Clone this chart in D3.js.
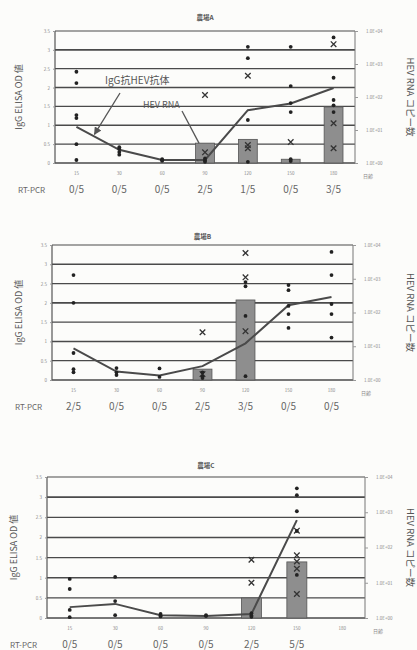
<!DOCTYPE html>
<html>
<head>
<meta charset="utf-8">
<script src="https://cdn.jsdelivr.net/npm/d3@7"></script>
<style>
  body { margin: 0; background: #fcfcfa; }
  svg { display: block; }
  text { font-family: "Noto Sans CJK JP", "Noto Sans", sans-serif; }
</style>
</head>
<body>
<div id="chart"></div>
<script>
// 日齢カテゴリ
var days = ["15", "30", "60", "90", "120", "150", "180"];
var leftTicks = [0, 0.5, 1, 1.5, 2, 2.5, 3, 3.5];
var rightTicks = [1, 10, 100, 1000, 10000];
var rightTickLabels = ["1.0E+00", "1.0E+01", "1.0E+02", "1.0E+03", "1.0E+04"];

// 農場A
var rtpcrA = ["0/5", "0/5", "0/5", "2/5", "1/5", "0/5", "3/5"];
var iggA = [[2.42, 2.12, 1.27, 1.19, 0.5, 0.08], [0.42, 0.37, 0.29, 0.22], [0.1, 0.08, 0.06],
            [0.12, 0.07, 0.03], [3.08, 2.78, 1.14, 0.03], [3.08, 2.04, 1.59, 1.35, 0.1, 0.05],
            [3.33, 2.26, 1.67, 1.53, 1.35]];
var meanA = [0.96, 0.35, 0.08, 0.08, 1.4, 1.58, 1.99];
var rnaBarA = [null, null, null, 4, 5.2, 1.3, 50];
var rnaPtsA = [[], [], [], [115, 2.1], [440, 3.5, 2.8], [4.3], [4000, 16, 2.8]];

// 農場B
var rtpcrB = ["2/5", "0/5", "0/5", "2/5", "3/5", "0/5", "0/5"];
var iggB = [[2.72, 2.0, 0.7, 0.28, 0.2], [0.31, 0.2, 0.13], [0.3, 0.08],
            [0.2, 0.1, 0.05], [2.54, 2.43, 1.66, 0.1], [2.46, 2.33, 1.92, 1.71, 1.35],
            [3.32, 2.72, 1.97, 1.71, 1.1]];
var meanB = [0.82, 0.22, 0.12, 0.36, 0.95, 1.94, 2.15];
var rnaBarB = [null, null, null, 2.1, 235, null, null];
var rnaPtsB = [[], [], [], [26, 1.5], [5800, 1100, 28], [], []];

// 農場C
var rtpcrC = ["0/5", "0/5", "0/5", "0/5", "2/5", "5/5", ""];
var iggC = [[0.97, 0.72, 0.2, 0.02], [1.02, 0.42, 0.07], [0.1, 0.06, 0.04],
            [0.07, 0.05], [0.12, 0.06, 0.03], [3.22, 3.05, 2.65, 2.16, 1.07], []];
var meanC = [0.27, 0.35, 0.07, 0.05, 0.1, 2.43, null];
var rnaBarC = [null, null, null, null, 3.7, 39, null];
var rnaPtsC = [[], [], [], [], [45, 10], [300, 60, 40, 25, 4.8], []];

var panels = [
    { title: "農場A", rt: rtpcrA, igg: iggA, mean: meanA, bar: rnaBarA, pts: rnaPtsA,
      top: 31, bottom: 163, left: 55, right: 355, titleY: 20, labelX: 22, notes: true },
    { title: "農場B", rt: rtpcrB, igg: iggB, mean: meanB, bar: rnaBarB, pts: rnaPtsB,
      top: 245, bottom: 380, left: 52, right: 353, titleY: 239, labelX: 22, notes: false },
    { title: "農場C", rt: rtpcrC, igg: iggC, mean: meanC, bar: rnaBarC, pts: rnaPtsC,
      top: 477, bottom: 618, left: 47, right: 365, titleY: 468, labelX: 17, notes: false }
];

var svg = d3.select("#chart").append("svg")
    .attr("width", 417)
    .attr("height", 650);

svg.append("defs").append("marker")
    .attr("id", "arrow")
    .attr("viewBox", "0 0 10 10")
    .attr("refX", 9).attr("refY", 5)
    .attr("markerWidth", 6).attr("markerHeight", 6)
    .attr("orient", "auto")
    .append("path")
    .attr("d", "M0,0 L10,5 L0,10 z")
    .attr("fill", "#555");

var cross = d3.symbol().type(d3.symbolX).size(22);

panels.forEach(function (p) {
    var width = p.right - p.left,
        height = p.bottom - p.top;

    var x = d3.scaleBand().domain(days).range([0, width]);
    var y = d3.scaleLinear().domain([0, 3.5]).range([height, 0]);
    var yr = d3.scaleLog().domain([1, 10000]).range([height, 0]);

    var g = svg.append("g")
        .attr("transform", "translate(" + p.left + "," + p.top + ")");

    // title
    svg.append("text")
        .attr("x", (p.left + p.right) / 2)
        .attr("y", p.titleY)
        .attr("text-anchor", "middle")
        .attr("font-size", "6.5px")
        .attr("font-weight", "bold")
        .attr("fill", "#555")
        .text(p.title);

    // horizontal grid
    g.append("g")
        .selectAll("line")
        .data(leftTicks)
        .enter()
        .append("line")
        .attr("x1", 0).attr("x2", width)
        .attr("y1", function (d) { return y(d); })
        .attr("y2", function (d) { return y(d); })
        .attr("stroke", "#4a4a4a")
        .attr("stroke-width", function (d, i) { return i % 2 == 0 ? 1.6 : 1.2; });

    // frame sides
    g.append("line").attr("x1", 0).attr("x2", 0).attr("y1", 0).attr("y2", height)
        .attr("stroke", "#555").attr("stroke-width", 1.2);
    g.append("line").attr("x1", width).attr("x2", width).attr("y1", 0).attr("y2", height)
        .attr("stroke", "#777").attr("stroke-width", 1);

    // left axis
    var la = g.append("g")
        .call(d3.axisLeft(y).tickValues(leftTicks).tickSize(2).tickFormat(d3.format("")));
    la.select(".domain").remove();
    la.selectAll("text").attr("font-size", "4.5px").attr("fill", "#888");
    la.selectAll("line").attr("stroke", "#999");

    // right axis
    var ra = g.append("g")
        .attr("transform", "translate(" + width + ",0)")
        .call(d3.axisRight(yr).tickValues(rightTicks).tickSize(3)
            .tickFormat(function (d, i) { return rightTickLabels[i]; }));
    ra.select(".domain").remove();
    ra.selectAll("text").attr("font-size", "4.5px").attr("fill", "#888").attr("dx", "5");
    ra.selectAll("line").attr("stroke", "#999");

    // x axis labels
    var xa = g.append("g")
        .attr("transform", "translate(0," + height + ")")
        .call(d3.axisBottom(x).tickSize(0).tickPadding(9));
    xa.select(".domain").remove();
    xa.selectAll("text").attr("font-size", "4.5px").attr("fill", "#888");
    g.append("text")
        .attr("x", width + 8).attr("y", height + 15)
        .attr("font-size", "5px").attr("fill", "#888")
        .text("日齢");

    // RNA bars
    var barData = days.map(function (d, i) { return { day: d, v: p.bar[i] }; })
        .filter(function (d) { return d.v != null; });
    var bw = x.bandwidth() * 0.44;
    g.selectAll(".bar")
        .data(barData)
        .enter()
        .append("rect")
        .attr("class", "bar")
        .attr("x", function (d) { return x(d.day) + (x.bandwidth() - bw) / 2; })
        .attr("y", function (d) { return yr(d.v); })
        .attr("width", bw)
        .attr("height", function (d) { return height - yr(d.v); })
        .attr("fill", "#8e8e8e")
        .attr("stroke", "#555")
        .attr("stroke-width", 0.8);

    // RNA points (x marks)
    var rnaPts = [];
    p.pts.forEach(function (arr, i) { arr.forEach(function (v) { rnaPts.push({ day: days[i], v: v }); }); });
    g.selectAll(".rna")
        .data(rnaPts)
        .enter()
        .append("path")
        .attr("class", "rna")
        .attr("d", cross)
        .attr("transform", function (d) { return "translate(" + (x(d.day) + x.bandwidth() / 2) + "," + yr(d.v) + ")"; })
        .attr("fill", "none")
        .attr("stroke", "#333")
        .attr("stroke-width", 1.3);

    // mean IgG line
    var meanData = days.map(function (d, i) { return { day: d, v: p.mean[i] }; })
        .filter(function (d) { return d.v != null; });
    g.append("path")
        .datum(meanData)
        .attr("fill", "none")
        .attr("stroke", "#4a4a4a")
        .attr("stroke-width", 2)
        .attr("d", d3.line()
            .x(function (d) { return x(d.day) + x.bandwidth() / 2; })
            .y(function (d) { return y(d.v); }));

    // individual IgG points
    var iggPts = [];
    p.igg.forEach(function (arr, i) { arr.forEach(function (v) { iggPts.push({ day: days[i], v: v }); }); });
    g.selectAll(".igg")
        .data(iggPts)
        .enter()
        .append("circle")
        .attr("class", "igg")
        .attr("cx", function (d) { return x(d.day) + x.bandwidth() / 2; })
        .attr("cy", function (d) { return y(d.v); })
        .attr("r", 1.9)
        .attr("fill", "#222");

    // RT-PCR row
    var rtY = p.bottom + 30;
    svg.append("text")
        .attr("x", p.left - 37).attr("y", rtY)
        .attr("font-size", "8px").attr("fill", "#666")
        .text("RT-PCR");
    svg.append("g")
        .selectAll("text")
        .data(days.map(function (d, i) { return { day: d, t: p.rt[i] }; }))
        .enter()
        .append("text")
        .attr("x", function (d) { return p.left + x(d.day) + x.bandwidth() / 2; })
        .attr("y", rtY)
        .attr("text-anchor", "middle")
        .attr("font-size", "10px")
        .attr("fill", "#666")
        .text(function (d) { return d.t; });

    // axis titles
    svg.append("text")
        .attr("transform", "translate(" + p.labelX + "," + (p.top + height / 2) + ") rotate(-90)")
        .attr("text-anchor", "middle")
        .attr("font-size", "9px")
        .attr("fill", "#555")
        .text("IgG ELISA OD 値");
    svg.append("text")
        .attr("transform", "translate(407," + (p.top + height / 2) + ") rotate(90)")
        .attr("text-anchor", "middle")
        .attr("font-size", "9.5px")
        .attr("fill", "#555")
        .text("HEV RNA コピー数");

    // annotations (farm A only)
    if (p.notes) {
        var x15 = x("15") + x.bandwidth() / 2, x30 = x("30") + x.bandwidth() / 2;
        var ax = x15 + (x30 - x15) * 0.42;
        var ay = y(meanA[0] + (meanA[1] - meanA[0]) * 0.42);
        g.append("text")
            .attr("x", 50).attr("y", 53)
            .attr("font-size", "10px").attr("fill", "#555")
            .text("IgG抗HEV抗体");
        g.append("line")
            .attr("x1", 65).attr("y1", 62).attr("x2", ax).attr("y2", ay - 2)
            .attr("stroke", "#555").attr("stroke-width", 1.3)
            .attr("marker-end", "url(#arrow)");
        var bx = x("90") + x.bandwidth() / 2;
        g.append("text")
            .attr("x", 88).attr("y", 77)
            .attr("font-size", "9px").attr("fill", "#555")
            .text("HEV RNA");
        g.append("line")
            .attr("x1", 127).attr("y1", 80).attr("x2", bx - 6).attr("y2", yr(rnaBarA[3]))
            .attr("stroke", "#555").attr("stroke-width", 1.3);
    }
});
</script>
</body>
</html>
